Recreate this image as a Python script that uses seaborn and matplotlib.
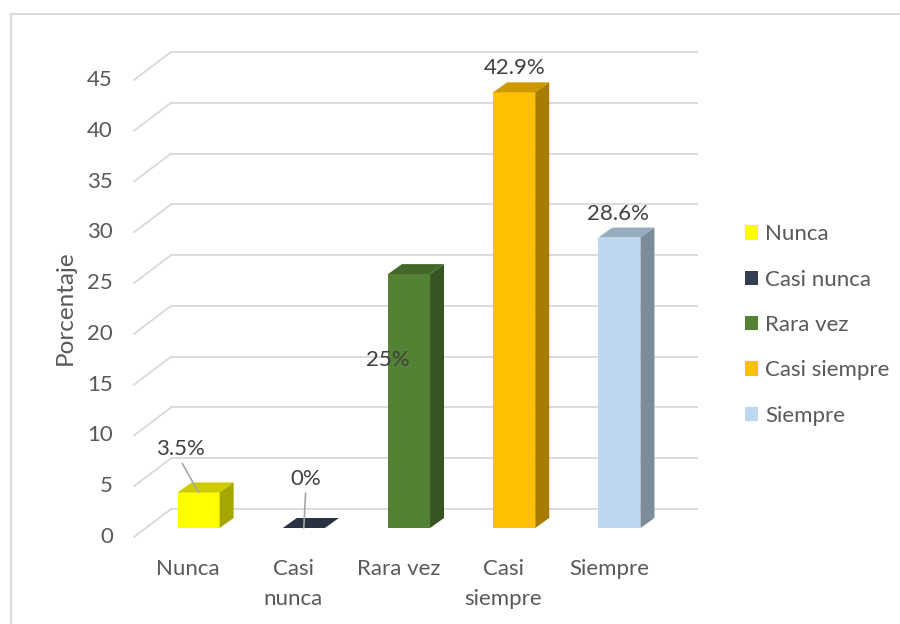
import matplotlib
matplotlib.use("Agg")
import matplotlib.pyplot as plt
import matplotlib.transforms as mtransforms
from matplotlib.patches import Polygon, Patch
from matplotlib.lines import Line2D
import numpy as np
import pandas as pd
import seaborn as sns

# ---- data ----
categories = ["Nunca", "Casi nunca", "Rara vez", "Casi siempre", "Siempre"]
tick_labels = ["Nunca", "Casi\nnunca", "Rara vez", "Casi\nsiempre", "Siempre"]
values = [3.5, 0.0, 25.0, 42.9, 28.6]
value_labels = ["3.5%", "0%", "25%", "42.9%", "28.6%"]
colors = ["#FFFF00", "#333F50", "#548235", "#FFC000", "#BDD7EE"]
yticks = [0, 5, 10, 15, 20, 25, 30, 35, 40, 45]
ylabel = "Porcentaje"

plt.rcParams["font.family"] = ["Lato", "DejaVu Sans"]
TXT = "#595959"
GRID = "#D9D9D9"
FS = 16

W, H = 900, 624
fig = plt.figure(figsize=(W / 100, H / 100), dpi=100)
# axes = front plane of the bars
ax = fig.add_axes([146 / W, 96 / H, 526 / W, 457 / H])

df = pd.DataFrame({"cat": categories, "val": values})
sns.barplot(data=df, x="cat", y="val", hue="cat", palette=colors,
            width=0.4, ax=ax, legend=False, saturation=1, zorder=3,
            linewidth=0)
ax.set_xlim(-0.5, 4.5)
ax.set_ylim(0, 45)
for s in ax.spines.values():
    s.set_visible(False)
ax.set_xticks([])
ax.set_yticks([])
ax.set_xlabel("")
ax.set_ylabel("")
ax.patch.set_alpha(0)


def px2data(dxp, dyp):
    """pixel offset -> data offset (y pixel positive = up)"""
    inv = ax.transData.inverted()
    o = ax.transData.transform((0, 0))
    p = inv.transform((o[0] + dxp, o[1] + dyp))
    return p[0], p[1]


def shade(c, f):
    r, g, b = matplotlib.colors.to_rgb(c)
    return (r * f, g * f, b * f)


# ---- walls / gridlines ----
bdx, bdy = px2data(25, 19)     # back wall offset
fdx, fdy = px2data(-12, -9)    # front edge offset
for v in yticks:
    ax.add_line(Line2D([-0.5 + bdx, 4.5 + bdx], [v + bdy, v + bdy],
                       color=GRID, lw=1.3, clip_on=False, zorder=1))
    ax.add_line(Line2D([-0.5 + fdx, -0.5 + bdx], [v + fdy, v + bdy],
                       color=GRID, lw=1.3, clip_on=False, zorder=1))
    ax.text(-0.5 + px2data(-33, 0)[0], v + fdy, str(v), ha="right",
            va="center", fontsize=FS, color=TXT, clip_on=False)

# ---- 3D faces of bars ----
dx, dy = px2data(14, 10)
bars = sorted(ax.patches, key=lambda p: p.get_x())
for p, c in zip(bars, colors):
    xl = p.get_x()
    xr = xl + p.get_width()
    h = p.get_height()
    top = Polygon([(xl, h), (xr, h), (xr + dx, h + dy), (xl + dx, h + dy)],
                  closed=True, facecolor=shade(c, 0.8), edgecolor="none",
                  zorder=3, clip_on=False)
    ax.add_patch(top)
    if h > 0:
        side = Polygon([(xr, 0), (xr + dx, dy), (xr + dx, h + dy), (xr, h)],
                       closed=True, facecolor=shade(c, 0.65),
                       edgecolor="none", zorder=3, clip_on=False)
        ax.add_patch(side)

# ---- data labels ----
lab_off = [(-18.6, 43), (2, 49), (-21, -86), (0, 24), (-1, 24)]
lines = [True, True, False, False, False]
for i, (v, t, off, ln) in enumerate(zip(values, value_labels, lab_off, lines)):
    kw = {}
    if ln:
        kw["arrowprops"] = dict(arrowstyle="-", color="#A6A6A6", lw=1.2,
                                shrinkA=1, shrinkB=0,
                                relpos=(0.5, 0.0))
    ax.annotate(t, xy=(i, v), xytext=off, textcoords="offset pixels",
                ha="center", va="center", fontsize=FS, color="#404040",
                zorder=6, annotation_clip=False, **kw)

# ---- category labels ----
shift = mtransforms.ScaledTranslation(-10.6 / 100, 0, fig.dpi_scale_trans)
for i, t in enumerate(tick_labels):
    ax.text(i, (528 - 559) / 457, t, transform=ax.get_xaxis_transform() + shift,
            ha="center", va="top", fontsize=FS, color=TXT, linespacing=1.62,
            clip_on=False)

# ---- y label ----
ax.text((65 - 146) / 526, (528 - 308) / 457, ylabel, transform=ax.transAxes,
        rotation=90, ha="center", va="center", fontsize=17.5, color=TXT)

# ---- legend ----
handles = [Patch(facecolor=c, edgecolor="none") for c in colors]
leg = fig.legend(handles, categories, loc="center left",
                 bbox_to_anchor=(745 / W, 1 - 325 / H),
                 bbox_transform=fig.transFigure, frameon=False,
                 fontsize=FS, handlelength=0.6, handleheight=0.6,
                 handletextpad=0.32, labelspacing=1.14, borderpad=0,
                 borderaxespad=0)
for t in leg.get_texts():
    t.set_color(TXT)

# ---- chart border ----
fig.add_artist(Line2D([11 / W, 1.0], [1 - 14 / H, 1 - 14 / H],
                      transform=fig.transFigure, color=GRID, lw=1.5))
fig.add_artist(Line2D([11 / W, 11 / W], [0, 1 - 14 / H],
                      transform=fig.transFigure, color=GRID, lw=1.5))

fig.savefig("out.png", dpi=100, facecolor="white")
